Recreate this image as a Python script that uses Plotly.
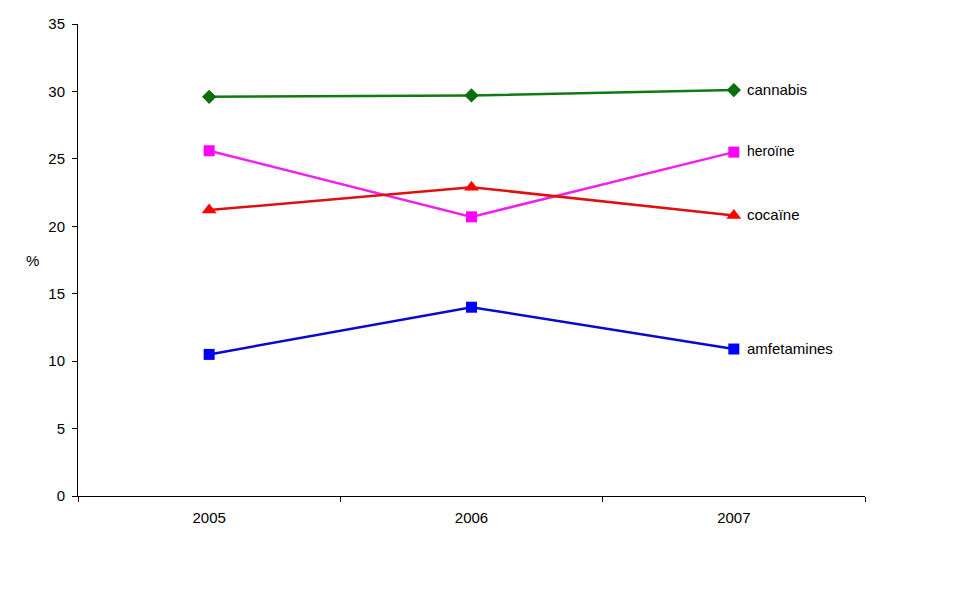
import plotly.graph_objects as go

years = ["2005", "2006", "2007"]
cannabis = [29.6, 29.7, 30.1]
heroine = [25.6, 20.7, 25.5]
cocaine = [21.2, 22.9, 20.8]
amfetamines = [10.5, 14.0, 10.9]

series = [
    ("cannabis", cannabis, "#137a13", "#0a6e0a", "diamond", 11, 15),
    ("heroïne", heroine, "#ee22ee", "#ff00ff", "square", 11, 14),
    ("cocaïne", cocaine, "#dd1111", "#ff0000", "triangle-up", 13, 15),
    ("amfetamines", amfetamines, "#0a0acc", "#0000ff", "square", 11, 15),
]

FONT = "Liberation Sans, Arial"
fig = go.Figure()
for name, vals, lc, mc, sym, ms, fs in series:
    fig.add_trace(go.Scatter(
        x=years, y=vals, mode="lines+markers", name=name,
        line=dict(color=lc, width=2.5),
        marker=dict(color=mc, symbol=sym, size=ms),
        hoverinfo="skip",
    ))
    fig.add_annotation(x=len(years) - 1, y=vals[-1], text=name, showarrow=False,
                       xanchor="left", xshift=11, yshift=1,
                       font=dict(family=FONT, size=fs, color="black"))

fig.add_annotation(xref="paper", yref="paper", x=-0.058, y=1 - (260 - 24) / (496 - 24),
                   text="%", showarrow=False, xanchor="center",
                   font=dict(family=FONT, size=15, color="black"))
fig.update_layout(
    width=968, height=605,
    margin=dict(l=78, r=103, t=24, b=109),
    paper_bgcolor="white", plot_bgcolor="white",
    showlegend=False,
    font=dict(family=FONT, size=15, color="black"),
)
fig.update_xaxes(type="category", tickson="boundaries", ticks="outside", ticklen=5,
                 tickcolor="black", showline=True, linecolor="black", linewidth=1,
                 showgrid=False, range=[-0.5, 2.5], ticklabelstandoff=8,
                 tickfont=dict(size=15))
fig.update_yaxes(range=[0, 35], dtick=5, ticks="outside", ticklen=5, tickcolor="black",
                 showline=True, linecolor="black", linewidth=1, showgrid=False,
                 zeroline=False, ticklabelstandoff=4, tickfont=dict(size=15))

fig.write_html("out.html")
